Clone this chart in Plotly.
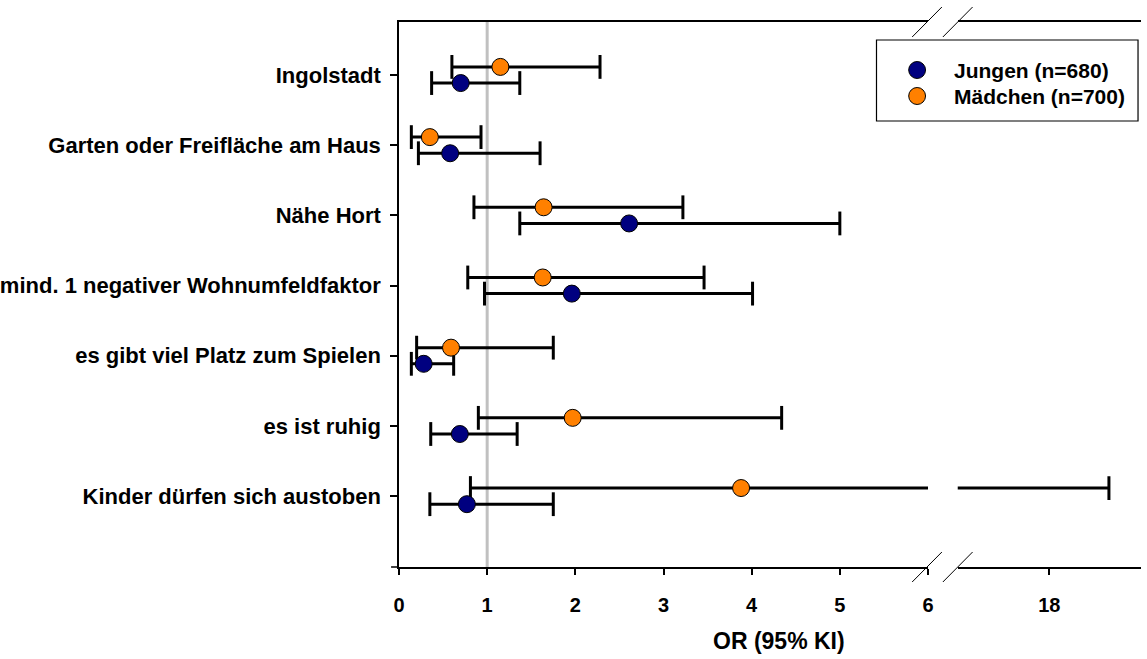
import plotly.graph_objects as go

# Odds ratios with 95% CI for each neighbourhood factor
categories = [
    "Ingolstadt",
    "Garten oder Freifläche am Haus",
    "Nähe Hort",
    "mind. 1 negativer Wohnumfeldfaktor",
    "es gibt viel Platz zum Spielen",
    "es ist ruhig",
    "Kinder dürfen sich austoben",
]

jungen_or = [0.70, 0.58, 2.61, 1.96, 0.28, 0.69, 0.77]
jungen_lo = [0.37, 0.22, 1.37, 0.97, 0.14, 0.36, 0.35]
jungen_hi = [1.37, 1.60, 5.00, 4.01, 0.62, 1.34, 1.75]

maedchen_or = [1.15, 0.35, 1.64, 1.63, 0.59, 1.97, 3.88]
maedchen_lo = [0.60, 0.14, 0.85, 0.78, 0.20, 0.90, 0.81]
maedchen_hi = [2.28, 0.93, 3.22, 3.46, 1.75, 4.34, 19.3]

left_ticks = [0, 1, 2, 3, 4, 5, 6]
right_ticks = [18]

# ---- layout geometry (pixels) ----
W, H = 1147, 659
L, R, T, B = 398, 0, 22, 92
plot_w = W - L - R
plot_h = H - T - B


def px_x(px):
    return (px - L) / plot_w


def px_y(py):
    return (H - B - py) / plot_h


FONT = "Liberation Sans, Arial, sans-serif"
NAVY = "#000080"
ORANGE = "#FF8000"
ypos = list(range(len(categories)))
shift = 0.115

series = [
    ("Jungen (n=680)", jungen_or, jungen_lo, jungen_hi, NAVY, shift),
    ("Mädchen (n=700)", maedchen_or, maedchen_lo, maedchen_hi, ORANGE, -shift),
]

fig = go.Figure()

# the broken x axis: same data drawn on both segments, clipped by each range
for xa in ["x", "x2"]:
    for name, est, lo, hi, color, off in series:
        ys = [y + off for y in ypos]
        lx, ly = [], []
        for a, b, y in zip(lo, hi, ys):
            lx += [a, b, None]
            ly += [y, y, None]
        fig.add_trace(go.Scatter(
            x=lx, y=ly, mode="lines", xaxis=xa, yaxis="y",
            line=dict(color="black", width=3),
            showlegend=False, hoverinfo="skip"))
        fig.add_trace(go.Scatter(
            x=lo + hi, y=ys + ys, mode="markers", xaxis=xa, yaxis="y",
            marker=dict(symbol="line-ns", size=17,
                        line=dict(color="black", width=3)),
            showlegend=False, hoverinfo="skip"))
    for name, est, lo, hi, color, off in series:
        ys = [y + off for y in ypos]
        fig.add_trace(go.Scatter(
            x=est, y=ys, mode="markers", xaxis=xa, yaxis="y",
            name=name, showlegend=False,
            marker=dict(size=17, color=color,
                        line=dict(color="black", width=1))))

axis_common = dict(
    showline=True, linecolor="black", linewidth=1.5, mirror=True,
    ticks="outside", ticklen=6, tickwidth=1.5, tickcolor="black",
    showgrid=False, zeroline=False, anchor="y",
    tickfont=dict(family=FONT, size=20, color="black", weight="bold"),
    ticklabelstandoff=13,
)

shapes = [
    # reference line at OR = 1
    dict(type="line", xref="x", yref="paper", x0=1, x1=1, y0=0, y1=1,
         line=dict(color="#C0C0C0", width=3), layer="below"),
    # x axis line running slightly past the y axis
    dict(type="line", xref="paper", yref="paper",
         x0=px_x(390), x1=0, y0=0, y1=0,
         line=dict(color="black", width=1.5)),
]
# break marks on the top and bottom axis lines
for yc in (22, 567):
    for x0 in (916, 947):
        shapes.append(dict(
            type="line", xref="paper", yref="paper",
            x0=px_x(x0), x1=px_x(x0 + 30),
            y0=px_y(yc + 15), y1=px_y(yc - 15),
            line=dict(color="black", width=1)))

# legend box with one row per group
leg_left, leg_right, leg_top, leg_bottom = 880, 1144, 40, 121
shapes.append(dict(
    type="rect", xref="paper", yref="paper",
    x0=px_x(leg_left), x1=px_x(leg_right),
    y0=px_y(leg_bottom), y1=px_y(leg_top),
    line=dict(color="black", width=1.2), fillcolor="white"))

annotations = [dict(
    text="OR (95% KI)", xref="paper", yref="paper",
    x=px_x(782), y=px_y(641), xanchor="center", yanchor="middle",
    showarrow=False,
    font=dict(family=FONT, size=23, color="black", weight="bold"))]

r = 8.5
for (name, est, lo, hi, color, off), row_y in zip(series, (70, 96)):
    shapes.append(dict(
        type="circle", xref="paper", yref="paper",
        x0=px_x(921 - r), x1=px_x(921 + r),
        y0=px_y(row_y + r), y1=px_y(row_y - r),
        fillcolor=color, line=dict(color="black", width=1)))
    annotations.append(dict(
        text=name, xref="paper", yref="paper",
        x=px_x(956), y=px_y(row_y), xanchor="left", yanchor="middle",
        showarrow=False,
        font=dict(family=FONT, size=21, color="black", weight="bold")))

fig.update_layout(
    width=W, height=H,
    margin=dict(l=L, r=R, t=T, b=B, pad=0),
    paper_bgcolor="white", plot_bgcolor="white",
    xaxis=dict(axis_common, domain=[0, px_x(932)], range=[0, 6],
               tickvals=left_ticks),
    xaxis2=dict(axis_common, domain=[px_x(962), 1], range=[16, 20],
                tickvals=right_ticks),
    yaxis=dict(
        range=[7.01, -0.755], tickvals=ypos, ticktext=categories,
        showline=True, linecolor="black", linewidth=1.5,
        ticks="outside", ticklen=7, tickwidth=1.5, tickcolor="black",
        showgrid=False, zeroline=False, anchor="x",
        tickfont=dict(family=FONT, size=22, color="black", weight="bold"),
        ticklabelstandoff=5,
    ),
    shapes=shapes,
    annotations=annotations,
    showlegend=False,
)

fig.write_html("out.html")
